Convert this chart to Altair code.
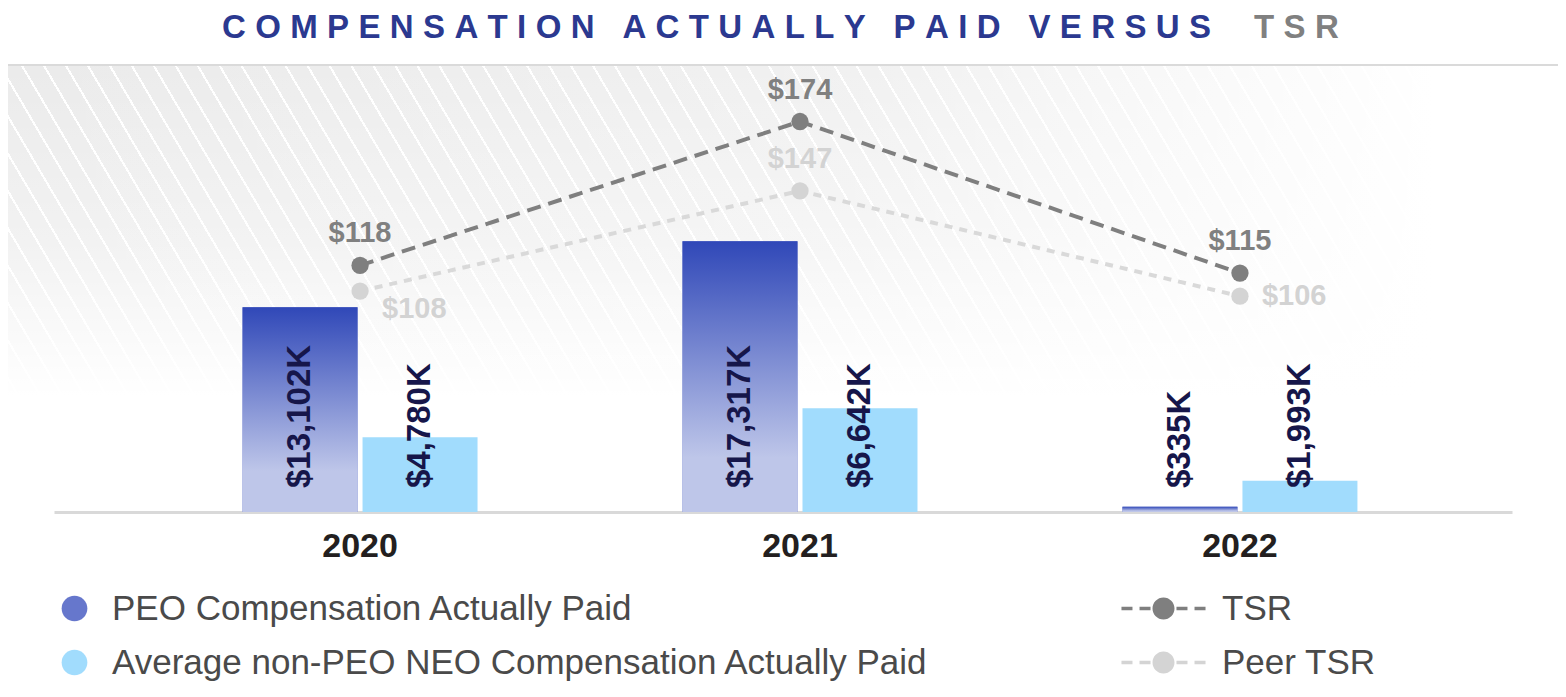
import altair as alt
import pandas as pd

# ---------------- data ----------------
years = ["2020", "2021", "2022"]
peo_cap = [13102, 17317, 335]
neo_cap = [4780, 6642, 1993]
tsr = [118, 174, 115]
peer_tsr = [108, 147, 106]

PEO = "PEO Compensation Actually Paid"
NEO = "Average non-PEO NEO Compensation Actually Paid"
bar_series = [PEO, NEO]
line_series = ["TSR", "Peer TSR"]

bars = pd.DataFrame({
    "year": years * 2,
    "series": [PEO] * 3 + [NEO] * 3,
    "value": peo_cap + neo_cap,
})
bars["label"] = bars["value"].map(lambda v: f"${v:,}K")

lines = pd.DataFrame({
    "year": years * 2,
    "series": ["TSR"] * 3 + ["Peer TSR"] * 3,
    "tsr": tsr + peer_tsr,
})
lines["label"] = lines["tsr"].map(lambda v: f"${v}")

title_main_words = ["COMPENSATION", "ACTUALLY", "PAID", "VERSUS"]
title_tail = "TSR"

# ---------------- styling ----------------
W, H = 1458, 447
FONT = "Liberation Sans"
SP = "\u2009\u200a"
title_main = (SP + " " + SP).join(SP.join(w) for w in title_main_words)
title_tail_sp = SP.join(title_tail)

x_enc = alt.X(
    "year:N",
    sort=years,
    scale=alt.Scale(domain=years, paddingInner=0, paddingOuter=0.157, align=0.623),
    axis=alt.Axis(
        title=None, labelAngle=0, labelFont=FONT, labelFontSize=34,
        labelFontWeight="bold", labelColor="#231f20", labelPadding=17,
        ticks=False, grid=False, domainColor="#d9d9d9", domainWidth=3,
    ),
)
xoff = alt.XOffset(
    "series:N",
    scale=alt.Scale(domain=bar_series, paddingInner=0.0417, paddingOuter=0.854),
)
y_bar = alt.Y("value:Q", scale=alt.Scale(domain=[0, 28600]), axis=None)
y_tsr = alt.Y("tsr:Q", scale=alt.Scale(domain=[22, 196]), axis=None)

one = pd.DataFrame({"k": [0]})

# decorative diagonal stripe texture (white hairlines on light grey)
N_STRIPES = 81
stripe_w = 0.11 / N_STRIPES
stripe_stops = []
for i in range(N_STRIPES):
    o = i / N_STRIPES
    stripe_stops += [
        alt.GradientStop(color="#ebebeb", offset=o),
        alt.GradientStop(color="#ffffff", offset=o),
        alt.GradientStop(color="#ffffff", offset=o + stripe_w),
        alt.GradientStop(color="#ebebeb", offset=o + stripe_w),
    ]
stripe_stops.append(alt.GradientStop(color="#ebebeb", offset=1))

BG_X1, BG_X2, BG_Y1, BG_Y2 = -46, 1504, 0, 390

stripes = alt.Chart(one).mark_rect(
    color=alt.Gradient(gradient="linear", stops=stripe_stops, x1=0, y1=1, x2=1.123, y2=0.834)
).encode(x=alt.value(BG_X1), x2=alt.value(BG_X2), y=alt.value(BG_Y1), y2=alt.value(BG_Y2))

fade_v = alt.Chart(one).mark_rect(
    color=alt.Gradient(
        gradient="linear",
        stops=[
            alt.GradientStop(color="rgba(255,255,255,0)", offset=0),
            alt.GradientStop(color="rgba(255,255,255,0.35)", offset=0.45),
            alt.GradientStop(color="rgba(255,255,255,1)", offset=0.85),
        ],
        x1=0, y1=0, x2=0, y2=1,
    )
).encode(x=alt.value(BG_X1), x2=alt.value(BG_X2), y=alt.value(BG_Y1), y2=alt.value(BG_Y2))

fade_h = alt.Chart(one).mark_rect(
    color=alt.Gradient(
        gradient="linear",
        stops=[
            alt.GradientStop(color="rgba(255,255,255,0)", offset=0),
            alt.GradientStop(color="rgba(255,255,255,0.3)", offset=0.55),
            alt.GradientStop(color="rgba(255,255,255,1)", offset=0.92),
        ],
        x1=0, y1=0, x2=1, y2=0,
    )
).encode(x=alt.value(BG_X1), x2=alt.value(BG_X2), y=alt.value(BG_Y1), y2=alt.value(BG_Y2))

top_rule = alt.Chart(one).mark_rule(color="#dadada", strokeWidth=2).encode(
    x=alt.value(BG_X1), x2=alt.value(BG_X2), y=alt.value(0)
)

title1 = alt.Chart(one).mark_text(
    font=FONT, fontSize=33, fontWeight="bold", color="#2b3990",
    align="left", baseline="alphabetic",
).encode(x=alt.value(168), y=alt.value(-27.5), text=alt.value(title_main))

title2 = alt.Chart(one).mark_text(
    font=FONT, fontSize=33, fontWeight="bold", color="#808080",
    align="left", baseline="alphabetic",
).encode(x=alt.value(1200), y=alt.value(-27.5), text=alt.value(title_tail_sp))

bar_base = alt.Chart(bars).mark_bar().encode(
    x=x_enc, xOffset=xoff, y=y_bar,
    color=alt.Color(
        "series:N",
        scale=alt.Scale(domain=bar_series, range=["#6677cc", "#a1dcfd"]),
        legend=alt.Legend(
            title=None, orient="none", legendX=3, legendY=526, direction="vertical",
            symbolType="circle", symbolSize=660, symbolStrokeWidth=0,
            labelFont=FONT, labelFontSize=35, labelColor="#4a4a4a",
            labelOffset=20, rowPadding=18, padding=0, labelLimit=1200,
        ),
    ),
)

bar_grad = alt.Chart(bars).transform_filter(alt.datum.series == PEO).mark_bar(
    color=alt.Gradient(
        gradient="linear",
        stops=[
            alt.GradientStop(color="#3048b8", offset=0),
            alt.GradientStop(color="#bec6e9", offset=0.8),
            alt.GradientStop(color="#bec6e9", offset=1),
        ],
        x1=0, y1=0, x2=0, y2=1,
    )
).encode(x=x_enc, xOffset=xoff, y=y_bar)

bar_text = alt.Chart(bars).mark_text(
    angle=270, align="left", baseline="middle", dx=24,
    font=FONT, fontSize=33, fontWeight="bold", color="#16164a",
).encode(x=x_enc, xOffset=xoff, y=alt.Y("zero:Q", scale=alt.Scale(domain=[0, 28600]), axis=None),
         text="label:N").transform_calculate(zero="0")

line_layer = alt.Chart(lines).mark_line(strokeWidth=4).encode(
    x=x_enc, y=y_tsr,
    stroke=alt.Stroke("series:N", scale=alt.Scale(domain=line_series, range=["#7f7f7f", "#d9d9d9"]), legend=None),
    strokeDash=alt.StrokeDash("series:N", scale=alt.Scale(domain=line_series, range=[[14, 8], [8, 7]]), legend=None),
)

legend_path = (
    "M-3.82,-0.155H-2.82V0.155H-3.82Z M-2.18,-0.155H-1.18V0.155H-2.18Z "
    "M1.18,-0.155H2.18V0.155H1.18Z M2.82,-0.155H3.82V0.155H2.82Z "
    "M-1,0A1,1 0 1,0 1,0A1,1 0 1,0 -1,0Z"
)

points = alt.Chart(lines).mark_circle(size=300, opacity=1).encode(
    x=x_enc, y=y_tsr,
    color=alt.Color(
        "series:N",
        scale=alt.Scale(domain=line_series, range=["#7f7f7f", "#d4d4d4"]),
        legend=alt.Legend(
            title=None, orient="none", legendX=1092, legendY=526, direction="vertical",
            symbolType=legend_path, symbolSize=484, symbolStrokeWidth=0,
            labelFont=FONT, labelFontSize=35, labelColor="#4a4a4a",
            labelOffset=41, rowPadding=18, padding=0, labelLimit=600,
        ),
    ),
)

lbl_kw = dict(font=FONT, fontSize=29, fontWeight="bold")
tsr_lbl = alt.Chart(lines).transform_filter(alt.datum.series == "TSR").mark_text(
    dy=-32, color="#808080", **lbl_kw
).encode(x=x_enc, y=y_tsr, text="label:N")
peer_lbl_top = alt.Chart(lines).transform_filter(
    (alt.datum.series == "Peer TSR") & (alt.datum.year == "2021")
).mark_text(dy=-32, color="#d3d3d3", **lbl_kw).encode(x=x_enc, y=y_tsr, text="label:N")
peer_lbl_2020 = alt.Chart(lines).transform_filter(
    (alt.datum.series == "Peer TSR") & (alt.datum.year == "2020")
).mark_text(dx=22, dy=18, align="left", color="#d3d3d3", **lbl_kw).encode(x=x_enc, y=y_tsr, text="label:N")
peer_lbl_2022 = alt.Chart(lines).transform_filter(
    (alt.datum.series == "Peer TSR") & (alt.datum.year == "2022")
).mark_text(dx=22, dy=0, align="left", color="#d3d3d3", **lbl_kw).encode(x=x_enc, y=y_tsr, text="label:N")

chart = alt.layer(
    stripes, fade_v, fade_h, top_rule, title1, title2,
    bar_base, bar_grad, bar_text,
    line_layer, points,
    tsr_lbl, peer_lbl_top, peer_lbl_2020, peer_lbl_2022,
).resolve_scale(
    y="independent", color="independent"
).properties(
    width=W, height=H,
    autosize=alt.AutoSizeParams(type="none"),
    padding={"left": 46, "top": 57, "right": 46, "bottom": 185},
).configure_view(stroke=None)

chart.save("out.html", embed_options={"renderer": "svg", "actions": False})
